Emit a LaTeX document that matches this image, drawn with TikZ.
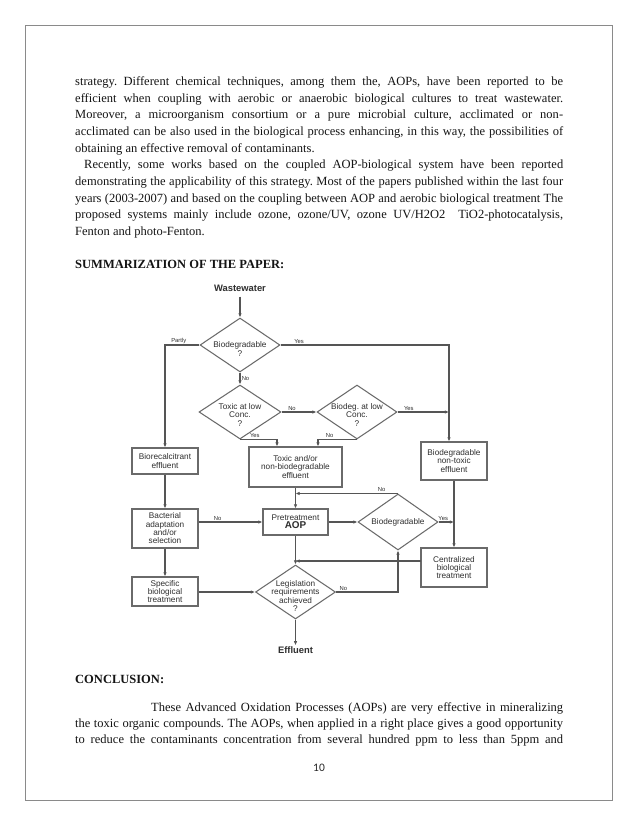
\documentclass[tikz,border=0pt]{standalone}
\usepackage{fontspec}
\setmainfont{Liberation Serif}
\newfontfamily\arialf{Liberation Sans}
\newfontfamily\calibf{Carlito}
\usetikzlibrary{arrows.meta,shapes.geometric,calc}
\definecolor{txtc}{HTML}{2E2E2E}
\definecolor{linec}{HTML}{555555}
\definecolor{boxc}{HTML}{6A6A6A}
\definecolor{framec}{HTML}{8A8A8A}
\newcommand{\jl}[2]{\makebox[#1][s]{#2}}
\newcommand{\ftxt}{\arialf\fontsize{7.9}{8.0}\selectfont}
\newcommand{\flab}{\arialf\fontsize{5.6}{6}\selectfont}
\frenchspacing
\begin{document}
\begin{tikzpicture}[x=0.9592pt,y=-0.9592pt,
  body/.style={anchor=base west,inner sep=0pt,text=black!92,font=\fontsize{12}{14}\selectfont},
  head/.style={body,font=\fontsize{12}{14}\selectfont\bfseries},
  fbox/.style={draw=boxc,line width=1pt,fill=white,inner sep=0pt,align=center,font=\ftxt,text=txtc},
  dia/.style={shape=diamond,draw=boxc,line width=1pt,fill=white,inner sep=0pt},
  dtext/.style={inner sep=0pt,align=center,font=\ftxt,text=txtc},
  bigt/.style={inner sep=1pt,font=\arialf\fontsize{9}{10}\selectfont\bfseries,text=txtc},
  conn/.style={draw=linec,line width=1pt},
  arr/.style={conn,-{Latex[length=4pt,width=3.4pt]}},
  lab/.style={font=\flab,text=txtc,inner sep=1.2pt}]
\fill[white] (0,0) rectangle (638,826);
\useasboundingbox (0,0) rectangle (638,826);
\draw[framec,line width=0.9pt] (25.5,25.5) rectangle (612,800);

% ---------- body text ----------
\node[body] (t1) at (75,85.5) {\jl{468pt}{strategy. Different chemical techniques, among them the, AOPs, have been reported to be}};
\node[body] (t2) at (75,102.2) {\jl{468pt}{efficient when coupling with aerobic or anaerobic biological cultures to treat wastewater.}};
\node[body] (t3) at (75,118.8) {\jl{468pt}{Moreover, a microorganism consortium or a pure microbial culture, acclimated or non-}};
\node[body] (t4) at (75,135.5) {\jl{468pt}{acclimated can be also used in the biological process enhancing, in this way, the possibilities of}};
\node[body] (t5) at (75,152.2) {obtaining an effective removal of contaminants.};
\node[body] (t6) at (84,168.8) {\jl{459.5pt}{Recently, some works based on the coupled AOP-biological system have been reported}};
\node[body] (t7) at (75,185.5) {\jl{468pt}{demonstrating the applicability of this strategy. Most of the papers published within the last four}};
\node[body] (t8) at (75,202.2) {\jl{468pt}{years (2003-2007) and based on the coupling between AOP and aerobic biological treatment The}};
\node[body] (t9) at (75,218.8) {\jl{468pt}{proposed systems mainly include ozone, ozone/UV, ozone UV/H2O2 \ TiO2-photocatalysis,}};
\node[body] (t10) at (75,235.5) {Fenton and photo-Fenton.};
\node[head] (h1) at (75,268.5) {SUMMARIZATION OF THE PAPER:};

\node[head] (h2) at (75,683.5) {CONCLUSION:};
\node[body] (c1) at (151,711.5) {\jl{395.2pt}{These Advanced Oxidation Processes (AOPs) are very effective in mineralizing}};
\node[body] (c2) at (75,727.5) {\jl{468pt}{the toxic organic compounds. The AOPs, when applied in a right place gives a good opportunity}};
\node[body] (c3) at (75,743.5) {\jl{468pt}{to reduce the contaminants concentration from several hundred ppm to less than 5ppm and}};
\node[anchor=base,inner sep=0pt,font=\calibf\fontsize{11}{13}\selectfont,text=black!85] (pg) at (319,771) {10};

% ---------- flowchart nodes ----------
\node[bigt] (ww) at (240,288) {Wastewater};
\node[dia,minimum width=80*0.9592pt,minimum height=54*0.9592pt] (D1) at (240,345) {};
\node[dtext] (D1t) at (240,349) {Biodegradable\\?};
\node[dia,minimum width=82*0.9592pt,minimum height=54*0.9592pt] (D2) at (240,412) {};
\node[dtext] (D2t) at (240,415) {Toxic at low\\Conc.\\?};
\node[dia,minimum width=80*0.9592pt,minimum height=54*0.9592pt] (D3) at (357,412) {};
\node[dtext] (D3t) at (357,415) {Biodeg. at low\\Conc.\\?};

\node[fbox,minimum width=66*0.9592pt,minimum height=26*0.9592pt] (B1) at (165,461) {Biorecalcitrant\\effluent};
\node[fbox,minimum width=93*0.9592pt,minimum height=40*0.9592pt] (B2) at (295.5,467) {Toxic and/or\\non-biodegradable\\effluent};
\node[fbox,minimum width=66*0.9592pt,minimum height=38*0.9592pt] (B3) at (454,461) {Biodegradable\\non-toxic\\effluent};
\node[fbox,minimum width=66*0.9592pt,minimum height=39*0.9592pt] (B4) at (165,528.5) {Bacterial\\adaptation\\and/or\\selection};
\node[fbox,minimum width=65*0.9592pt,minimum height=26*0.9592pt] (B5) at (295.5,522) {Pretreatment\\{\arialf\fontsize{9.5}{9.5}\selectfont\bfseries AOP}};
\node[dia,minimum width=80*0.9592pt,minimum height=56*0.9592pt] (D4) at (398,522) {};
\node[dtext] (D4t) at (398,522) {Biodegradable};
\node[fbox,minimum width=66*0.9592pt,minimum height=39*0.9592pt] (B6) at (454,567.5) {Centralized\\biological\\treatment};
\node[fbox,minimum width=66*0.9592pt,minimum height=29*0.9592pt] (B7) at (165,591.5) {Specific\\biological\\treatment};
\node[dia,minimum width=80*0.9592pt,minimum height=54*0.9592pt] (D5) at (295.5,592) {};
\node[dtext] (D5t) at (295.5,596) {Legislation\\requirements\\achieved\\?};
\node[bigt] (ef) at (295.5,650) {Effluent};

\coordinate (vtop) at (449,345);
\coordinate (c6) at (421,561);

% ---------- connectors ----------
\draw[arr,shorten <=4pt] (ww) -- (D1.north);
\draw[arr] (D1.west) -| node[lab,pos=0.3,above] (lP) {Partly} (B1.north);
\draw[arr] (D1.east) -- node[lab,pos=0.11,above] (lY1) {Yes} (vtop) -- (vtop |- B3.north);
\draw[arr] (D1.south) -- node[lab,right] (lN1) {No} (D2.north);
\draw[arr] (D2.east) -- node[lab,pos=0.3,above] (lN2) {No} (D3.west);
\draw[arr] (D2.south) -| node[lab,pos=0.2,above] (lY2) {Yes} ($(B2.north)+(-18.5,0)$);
\draw[arr] (D3.south) -| node[lab,pos=0.35,above] (lN3) {No} ($(B2.north)+(22.5,0)$);
\draw[arr] (D3.east) -- node[lab,pos=0.22,above] (lY3) {Yes} (D3.east -| vtop);
\draw[arr] (B1.south) -- (B4.north);
\draw[arr] (B2.south) -- (B5.north);
\draw[arr] (D4.north) -- node[lab,pos=0.16,above] (lN4) {No} (D4.north -| B2.south);
\draw[arr] (B4.east |- B5.west) -- node[lab,pos=0.3,above] (lN5) {No} (B5.west);
\draw[arr] (B5.east) -- (D4.west);
\draw[arr] (D4.east) -- node[lab,pos=0.3,above] (lY4) {Yes} (D4.east -| B3.south);
\draw[arr] (B3.south) -- (B6.north);
\draw[arr] (B4.south) -- (B7.north);
\draw[arr] (B5.south) -- (D5.north);
\draw[arr] (c6) -- (c6 -| B5.south);
\draw[arr] (B7.east |- D5.west) -- (D5.west);
\draw[arr] (D5.east) -| node[lab,pos=0.06,above] (lN6) {No} (D4.south);
\draw[arr] (D5.south) -- (ef.north);
\end{tikzpicture}
\end{document}
